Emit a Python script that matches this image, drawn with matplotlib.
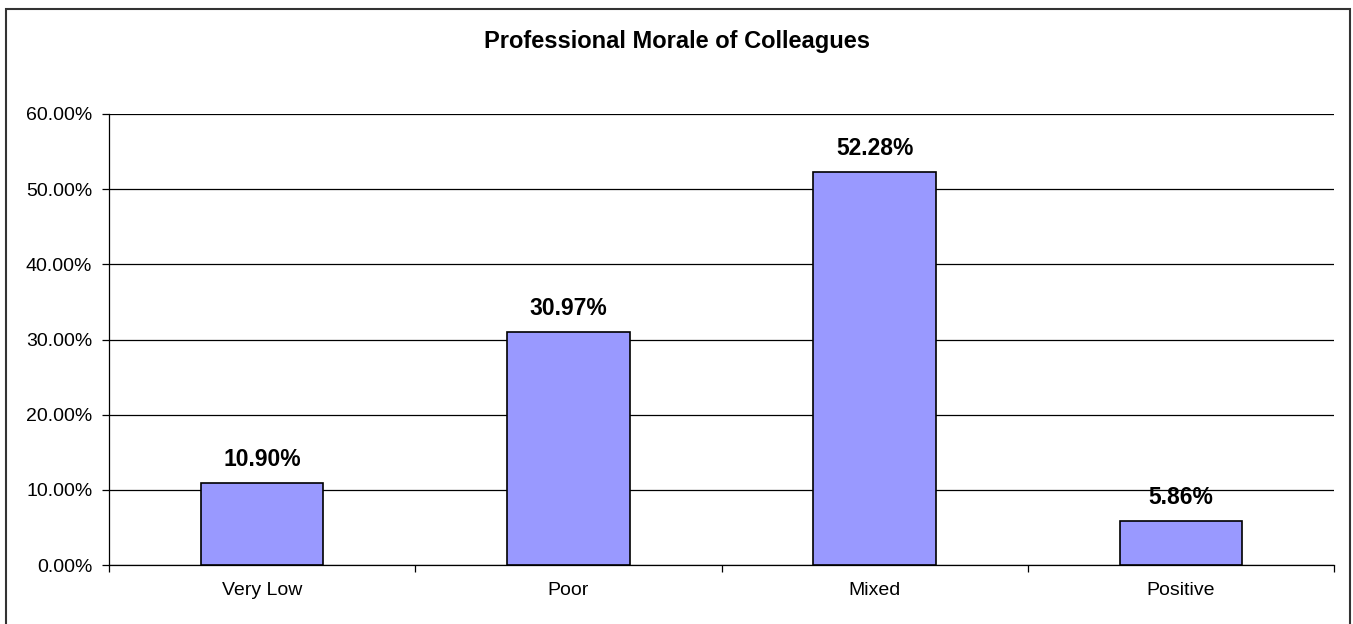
import matplotlib
matplotlib.use("Agg")
import matplotlib.pyplot as plt
from matplotlib.patches import Rectangle
from matplotlib.ticker import MultipleLocator, FixedLocator

categories = ["Very Low", "Poor", "Mixed", "Positive"]
values = [10.90, 30.97, 52.28, 5.86]
title = "Professional Morale of Colleagues"

plt.rcParams['font.family'] = ['Liberation Sans', 'DejaVu Sans']

W, H = 1353, 624
fig = plt.figure(figsize=(W / 100, H / 100), dpi=100)

# outer chart border (bottom edge lies below the image)
fig.patches.append(Rectangle((6 / W, 1 - 630 / H), (1350 - 6) / W, (630 - 9) / H,
                             transform=fig.transFigure, fill=False,
                             edgecolor="#333333", linewidth=1.5))

left, right, top, bottom = 109, 1334, 114, 565
ax = fig.add_axes([left / W, 1 - bottom / H, (right - left) / W, (bottom - top) / H])

x = list(range(len(categories)))
ax.bar(x, values, width=0.4, color="#9999FF", edgecolor="black", linewidth=1.2, zorder=3)

ax.set_xlim(-0.5, len(categories) - 0.5)
ax.set_ylim(0, 60)
ax.yaxis.set_major_locator(MultipleLocator(10))
ax.set_yticklabels([f"{v:.2f}%" for v in ax.get_yticks()])
ax.yaxis.grid(True, color="black", linewidth=0.9, zorder=0)
ax.set_axisbelow(True)

ax.set_xticks(x)
ax.set_xticklabels(categories)
ax.xaxis.set_minor_locator(FixedLocator([i - 0.5 for i in range(len(categories) + 1)]))
ax.tick_params(axis="x", which="major", length=0, pad=12, labelsize=14)
ax.tick_params(axis="x", which="minor", length=5, width=0.9, direction="out")
ax.tick_params(axis="y", length=5, width=0.9, direction="out", labelsize=14, pad=7)

for s in ["top", "right"]:
    ax.spines[s].set_visible(False)
ax.spines["left"].set_linewidth(0.9)
ax.spines["bottom"].set_linewidth(0.9)

for xi, v in zip(x, values):
    ax.annotate(f"{v:.2f}%", (xi, v), xytext=(0, 17), textcoords="offset points",
                ha="center", va="center", fontsize=16.5, fontweight="bold")

fig.text(0.5, 1 - 48 / H, title, ha="center", va="baseline", fontsize=17, fontweight="bold")

fig.savefig("out.png", dpi=100)
